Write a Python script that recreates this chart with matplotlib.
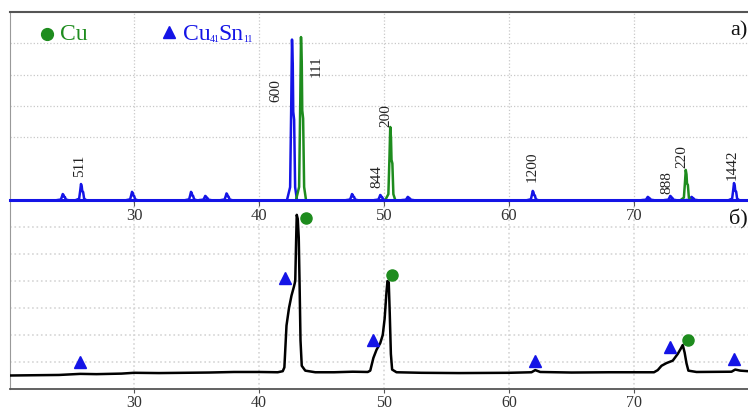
import matplotlib
matplotlib.use("Agg")
import matplotlib.pyplot as plt
import numpy as np

plt.rcParams['font.family'] = ['Liberation Serif', 'DejaVu Serif']

# ---- data ----
# top panel: reference lines (2theta, relative height)
sn_pos = [24.3, 25.76, 29.84, 34.56, 35.7, 37.4, 42.64, 47.44, 49.7, 51.9, 61.9, 71.1, 72.9, 74.6, 78.0]
sn_h   = [0.19, 0.51, 0.26, 0.26, 0.13, 0.21, 5.12, 0.19, 0.16, 0.10, 0.29, 0.10, 0.13, 0.10, 0.54]
cu_pos = [43.36, 50.5, 74.14]
cu_h   = [5.2, 2.33, 0.96]

hkl_labels = ['511', '600', '111', '844', '200', '1200', '888', '220', '1442']
hkl_x      = [25.68, 41.36, 44.56, 49.44, 50.16, 61.84, 72.64, 73.84, 77.84]
hkl_y      = [0.77, 3.16, 3.96, 0.41, 2.36, 0.61, 0.22, 1.05, 0.67]

# bottom panel: measured pattern
tt = [20.08, 22, 24, 25.7, 27, 29, 30, 32, 34, 36, 38, 40, 41.5, 41.9, 42.03, 42.2, 42.4, 42.6,
      42.8, 42.9, 42.97, 43.02, 43.1, 43.18, 43.25, 43.32, 43.42, 43.7, 44.5, 46, 47.5, 48.7,
      48.9, 49.15, 49.4, 49.7, 49.9, 50.05, 50.2, 50.28, 50.38, 50.46, 50.55, 50.65, 51, 53,
      56, 60, 61.8, 62.1, 62.5, 65, 68, 70, 71.6, 71.9, 72.2, 72.6, 73.1, 73.5, 73.75, 73.9,
      74.05, 74.2, 74.35, 75, 77.8, 78.1, 78.5, 79.12]
inten = [0.50, 0.51, 0.52, 0.56, 0.55, 0.57, 0.60, 0.59, 0.60, 0.61, 0.63, 0.63, 0.62, 0.66,
         0.80, 2.35, 3.0, 3.46, 3.8, 4.0, 5.5, 6.45, 6.3, 5.6, 3.8, 1.8, 0.86, 0.68, 0.62, 0.62,
         0.64, 0.63, 0.68, 1.15, 1.45, 1.7, 2.0, 2.6, 3.6, 4.0, 3.95, 2.8, 1.3, 0.72, 0.62, 0.60,
         0.59, 0.60, 0.62, 0.70, 0.63, 0.61, 0.62, 0.62, 0.62, 0.70, 0.86, 0.96, 1.05, 1.30, 1.50,
         1.63, 1.35, 0.95, 0.68, 0.63, 0.64, 0.72, 0.68, 0.66]

tri_x = [25.7, 42.1, 49.1, 62.1, 72.9, 78.0]
tri_y = [0.99, 4.11, 1.83, 1.02, 1.54, 1.11]
cir_x = [43.8, 50.67, 74.35]
cir_y = [6.32, 4.22, 1.83]

xticks = [30, 40, 50, 60, 70]

BLUE = '#1414e6'
GREEN = '#1e8c1e'
GRID = '#c8c8c8'

# peak profile shape (relative offsets / heights) used to render each stick line
shape_dx = [-0.40, -0.15, -0.06, 0.0, 0.06, 0.10, 0.17, 0.25, 0.40]
shape_f  = [0.0, 0.08, 0.6, 1.0, 0.85, 0.55, 0.5, 0.08, 0.0]

fig = plt.figure(figsize=(7.48, 4.10), dpi=100)
L, R = 10/748, 1.0
ax1 = fig.add_axes([L, 1-201/410, R-L, (201-13)/410])
ax2 = fig.add_axes([L, 1-390/410, R-L, (390-201)/410])

xlim = (20.08, 79.12)

# ---- top panel ----
ax1.set_xlim(*xlim)
ax1.set_ylim(0, 6)
ax1.set_xticks(xticks)
ax1.set_yticks([2, 3, 4, 5])
ax1.grid(True, color=GRID, linestyle=':', linewidth=0.9)
ax1.set_axisbelow(True)
for p, h in zip(sn_pos, sn_h):
    xs = [p + d for d in shape_dx]
    ys = [h * f for f in shape_f]
    ax1.plot(xs, ys, color=BLUE, lw=1.8, zorder=3)
for p, h in zip(cu_pos, cu_h):
    xs = [p + d for d in shape_dx]
    ys = [h * f for f in shape_f]
    ax1.plot(xs, ys, color=GREEN, lw=1.8, zorder=4)
ax1.plot(xlim, [0, 0], color=BLUE, lw=2.2, zorder=5, clip_on=False)
for s, x, y in zip(hkl_labels, hkl_x, hkl_y):
    ax1.text(x, y, s, rotation=90, ha='center', va='bottom', fontsize=11,
             color='#222222')
ax1.tick_params(axis='x', direction='out', length=4, width=0.8, color='#555555',
                labelsize=12, labelcolor='#333333', pad=1)
ax1.tick_params(axis='y', length=0, labelleft=False)
ax1.spines['top'].set_color('#555555')
ax1.spines['top'].set_linewidth(1.5)
ax1.spines['left'].set_color('#999999')
ax1.spines['left'].set_linewidth(0.8)
ax1.spines['right'].set_visible(False)
ax1.spines['bottom'].set_visible(False)

# legend
ax1.plot([23.04], [5.30], 'o', color=GREEN, ms=8.5, clip_on=False)
ax1.text(24.1, 5.30, 'Cu', color=GREEN, fontsize=17, va='center', ha='left')
ax1.plot([32.8], [5.36], '^', color=BLUE, ms=8, clip_on=False)
ax1.text(33.9, 5.30, 'Cu', color=BLUE, fontsize=17, va='center', ha='left')
ax1.text(36.05, 5.08, '41', color=BLUE, fontsize=7, va='baseline', ha='left')
ax1.text(36.75, 5.30, 'Sn', color=BLUE, fontsize=17, va='center', ha='left')
ax1.text(38.7, 5.08, '11', color=BLUE, fontsize=7, va='baseline', ha='left')
ax1.text(0.999, 0.905, 'а)', transform=ax1.transAxes, fontsize=16, ha='right',
         va='center', color='#111111')

# ---- bottom panel ----
ax2.set_xlim(*xlim)
ax2.set_ylim(0, 7)
ax2.set_xticks(xticks)
ax2.set_yticks([1, 2, 3, 4, 5, 6])
ax2.grid(True, color='#d6d6d6', linestyle=':', linewidth=1.2)
ax2.set_axisbelow(True)
ax2.plot(tt, inten, color='black', lw=1.8, zorder=3)
ax2.plot(tri_x, tri_y, '^', color=BLUE, ms=8, zorder=4)
ax2.plot(cir_x, cir_y, 'o', color=GREEN, ms=8, zorder=4)
ax2.text(0.999, 0.9, 'б)', transform=ax2.transAxes, fontsize=16, ha='right',
         va='center', color='#111111')
ax2.tick_params(axis='x', direction='out', length=3, width=0.8, color='#555555',
                labelsize=11.5, labelcolor='#333333', pad=0.5)
ax2.tick_params(axis='y', length=0, labelleft=False)
ax2.spines['top'].set_visible(False)
ax2.spines['right'].set_visible(False)
ax2.spines['left'].set_color('#999999')
ax2.spines['left'].set_linewidth(0.8)
ax2.spines['bottom'].set_color('#555555')
ax2.spines['bottom'].set_linewidth(1.3)
ax2.patch.set_alpha(0)
ax1.set_zorder(3)
ax1.patch.set_alpha(0)

fig.savefig('out.png', dpi=100)
